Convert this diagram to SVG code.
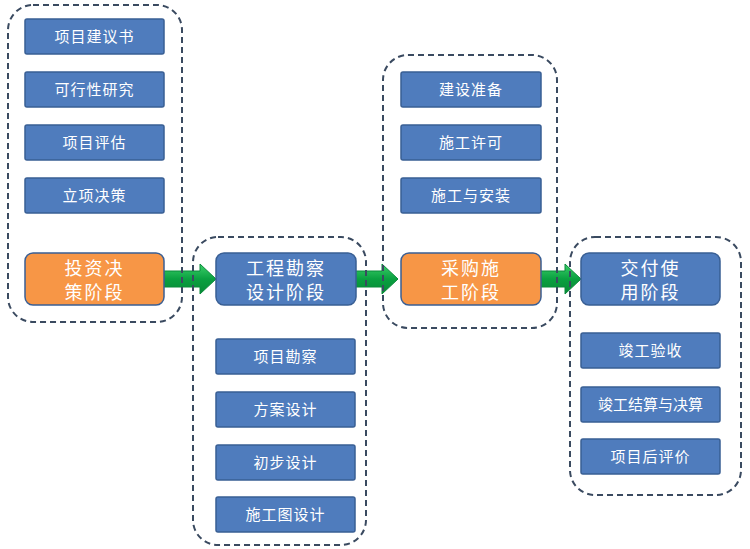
<svg xmlns="http://www.w3.org/2000/svg" width="750" height="549" viewBox="0 0 750 549">
<defs><linearGradient id="g" x1="0" y1="0" x2="0" y2="1"><stop offset="0" stop-color="#3cd06a"/><stop offset="0.5" stop-color="#0aa040"/><stop offset="1" stop-color="#078a36"/></linearGradient></defs>
<style>
.grp{fill:none;stroke:#3a4a60;stroke-width:2;stroke-dasharray:6 4}
.b{fill:#4f7cbd;stroke:#395f94;stroke-width:1.5}
.o{fill:#f79646;stroke:#3a5f94;stroke-width:1.5}
.m{fill:#4f7cbd;stroke:#395f94;stroke-width:1.5}
text{font-family:"Noto Sans CJK SC",sans-serif;fill:#fff;text-anchor:middle;font-size:15px;letter-spacing:1px}
.big{font-size:18px;letter-spacing:2px}
.ar{fill:url(#g);stroke:#0a8a3a;stroke-width:1}
</style>
<g id="connectors">
<path class="ar" d="M164 271 H200 V264 L216 279 L200 294 V287 H164 Z"/>
<path class="ar" d="M355 271 H382 V264 L398 279 L382 294 V287 H355 Z"/>
<path class="ar" d="M540 271 H565 V264 L581 279 L565 294 V287 H540 Z"/>
</g>
<rect class="grp" x="8" y="5" width="174" height="317" rx="25"/>
<rect class="grp" x="193" y="237" width="173" height="308" rx="25"/>
<rect class="grp" x="383" y="55" width="174" height="273" rx="25"/>
<rect class="grp" x="570" y="237" width="171" height="258" rx="25"/>
<g id="n1"><rect class="b" x="25" y="19" width="139" height="35" rx="2"/><text x="94.5" y="42">项目建议书</text></g>
<g id="n2"><rect class="b" x="25" y="72" width="139" height="35" rx="2"/><text x="94.5" y="95">可行性研究</text></g>
<g id="n3"><rect class="b" x="25" y="125" width="139" height="35" rx="2"/><text x="94.5" y="148">项目评估</text></g>
<g id="n4"><rect class="b" x="25" y="178" width="139" height="35" rx="2"/><text x="94.5" y="201">立项决策</text></g>
<g id="s1"><rect class="o" x="25" y="253" width="139" height="52" rx="8"/><text class="big" x="94.5" y="275">投资决</text><text class="big" x="94.5" y="299">策阶段</text></g>
<g id="s2"><rect class="m" x="216" y="253" width="140" height="52" rx="8"/><text class="big" x="286" y="275">工程勘察</text><text class="big" x="286" y="299">设计阶段</text></g>
<g id="n5"><rect class="b" x="216" y="339" width="139" height="35" rx="2"/><text x="285.5" y="362">项目勘察</text></g>
<g id="n6"><rect class="b" x="216" y="392" width="139" height="35" rx="2"/><text x="285.5" y="415">方案设计</text></g>
<g id="n7"><rect class="b" x="216" y="445" width="139" height="35" rx="2"/><text x="285.5" y="468">初步设计</text></g>
<g id="n8"><rect class="b" x="216" y="497" width="139" height="35" rx="2"/><text x="285.5" y="520">施工图设计</text></g>
<g id="n9"><rect class="b" x="401" y="72" width="140" height="35" rx="2"/><text x="471" y="95">建设准备</text></g>
<g id="n10"><rect class="b" x="401" y="125" width="140" height="35" rx="2"/><text x="471" y="148">施工许可</text></g>
<g id="n11"><rect class="b" x="401" y="178" width="140" height="35" rx="2"/><text x="471" y="201">施工与安装</text></g>
<g id="s3"><rect class="o" x="401" y="253" width="140" height="52" rx="8"/><text class="big" x="471" y="275">采购施</text><text class="big" x="471" y="299">工阶段</text></g>
<g id="s4"><rect class="m" x="581" y="253" width="139" height="52" rx="8"/><text class="big" x="650.5" y="275">交付使</text><text class="big" x="650.5" y="299">用阶段</text></g>
<g id="n12"><rect class="b" x="581" y="333" width="139" height="35" rx="2"/><text x="650.5" y="356">竣工验收</text></g>
<g id="n13"><rect class="b" x="581" y="387" width="139" height="35" rx="2"/><text x="650.5" y="410" style="letter-spacing:0">竣工结算与决算</text></g>
<g id="n14"><rect class="b" x="581" y="439" width="139" height="35" rx="2"/><text x="650.5" y="462">项目后评价</text></g>
</svg>
